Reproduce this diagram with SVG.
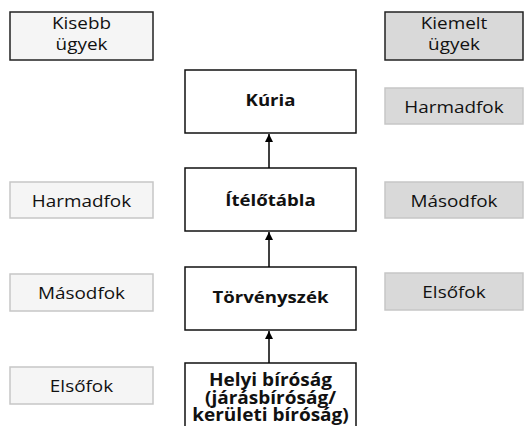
<svg xmlns="http://www.w3.org/2000/svg" width="525" height="426" viewBox="0 0 525 426">
<style>
.lt{fill:#f5f5f5;stroke:#c6c6c6;stroke-width:1.5}
.dk{fill:#d9d9d9;stroke:#c6c6c6;stroke-width:1.5}
.hl{fill:#f5f5f5;stroke:#222;stroke-width:1.5}
.hd{fill:#d9d9d9;stroke:#222;stroke-width:1.5}
.c{fill:#fff;stroke:#111;stroke-width:1.5}
text{font-family:"Open Sans","Noto Sans",sans-serif;font-size:15.5px;fill:#111;text-anchor:middle}
.b{font-weight:bold}
.h{font-weight:bold;font-size:17px}
.cn{stroke:#000;stroke-width:1.5;fill:none}
</style>
<defs>
<marker id="ah" viewBox="0 0 10 10" refX="10" refY="5" markerWidth="8" markerHeight="8" markerUnits="userSpaceOnUse" orient="auto">
<path d="M0,0 L10,5 L0,10 z" fill="#000"/>
</marker>
</defs>
<rect width="525" height="426" fill="#fff"/>
<g id="kisebb"><rect class="hl" x="10" y="12" width="143" height="48"/><text transform="translate(81.5 29) scale(1.22 1)">Kisebb</text><text transform="translate(81.5 50) scale(1.22 1)">ügyek</text></g>
<g id="kiemelt"><rect class="hd" x="385" y="12" width="138" height="48"/><text transform="translate(454 29) scale(1.22 1)">Kiemelt</text><text transform="translate(454 50) scale(1.22 1)">ügyek</text></g>
<g id="kuria"><rect class="c" x="185" y="70" width="171" height="63"/><text class="b" transform="translate(270.5 106) scale(1.2 1)">Kúria</text></g>
<g id="itelotabla"><rect class="c" x="185" y="168" width="171" height="63"/><text class="b" transform="translate(270.5 206) scale(1.2 1)">Ítélőtábla</text></g>
<g id="torvenyszek"><rect class="c" x="185" y="267" width="171" height="63"/><text class="b" transform="translate(270.5 303) scale(1.2 1)">Törvényszék</text></g>
<g id="helyi"><rect class="c" x="185" y="363" width="171" height="70"/><text class="h" transform="translate(270.5 386) scale(1.12 1)">Helyi bíróság</text><text class="h" transform="translate(270.5 403.5) scale(1.12 1)">(járásbíróság/</text><text class="h" transform="translate(270.5 421) scale(1.12 1)">kerületi bíróság)</text></g>
<g id="l-harmadfok"><rect class="lt" x="10" y="182" width="143" height="36"/><text transform="translate(81.5 207) scale(1.22 1)">Harmadfok</text></g>
<g id="l-masodfok"><rect class="lt" x="10" y="274" width="143" height="37"/><text transform="translate(81.5 299) scale(1.22 1)">Másodfok</text></g>
<g id="l-elsofok"><rect class="lt" x="10" y="367" width="143" height="37"/><text transform="translate(81.5 392) scale(1.22 1)">Elsőfok</text></g>
<g id="r-harmadfok"><rect class="dk" x="385" y="88" width="138" height="36"/><text transform="translate(454 113) scale(1.22 1)">Harmadfok</text></g>
<g id="r-masodfok"><rect class="dk" x="385" y="182" width="138" height="36"/><text transform="translate(454 207) scale(1.22 1)">Másodfok</text></g>
<g id="r-elsofok"><rect class="dk" x="385" y="273" width="138" height="37"/><text transform="translate(454 298) scale(1.22 1)">Elsőfok</text></g>
<g id="connectors">
<line class="cn" x1="269" y1="168" x2="269" y2="134" marker-end="url(#ah)"/>
<line class="cn" x1="269" y1="267" x2="269" y2="232" marker-end="url(#ah)"/>
<line class="cn" x1="269" y1="363" x2="269" y2="331" marker-end="url(#ah)"/>
</g>
</svg>
